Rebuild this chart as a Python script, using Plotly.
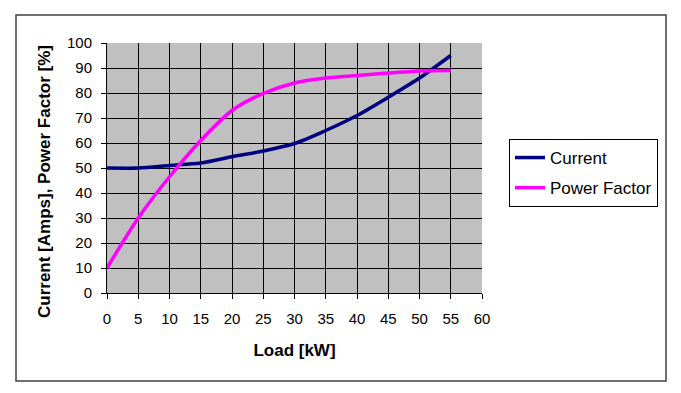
import plotly.graph_objects as go

load_kw = [0, 5, 10, 15, 20, 25, 30, 35, 40, 45, 50, 55]
current_amps = [50, 50, 51, 52, 54.5, 56.8, 59.8, 65, 71, 78.3, 86, 95]
power_factor = [10, 30, 46.5, 61, 73, 79.8, 84, 86, 87, 88, 88.8, 89]

x_ticks = list(range(0, 61, 5))
y_ticks = list(range(0, 101, 10))

W, H = 681, 393
# page body has an 8px margin; shift everything so screen positions match
OFF = 8
L, R, T, B = 107 - OFF, 482 - OFF, 43 - OFF, 293 - OFF


def px_x(p):
    return (p - OFF - L) / (R - L)


def px_y(p):
    return (B - (p - OFF)) / (B - T)


fig = go.Figure()
fig.add_trace(go.Scatter(
    x=load_kw, y=current_amps, name="Current", mode="lines",
    line=dict(color="#000080", width=3.5, shape="spline", smoothing=0.8),
    legendgroup="a",
))
fig.add_trace(go.Scatter(
    x=load_kw, y=power_factor, name="Power Factor", mode="lines",
    line=dict(color="#FF00FF", width=3.5, shape="spline", smoothing=0.8),
    legendgroup="b",
))

font_family = "Arial, Liberation Sans, sans-serif"

fig.update_layout(
    width=W, height=H,
    margin=dict(l=L, r=W - R, t=T, b=H - B, pad=0),
    paper_bgcolor="white",
    plot_bgcolor="#C0C0C0",
    font=dict(family=font_family, size=14, color="black"),
    showlegend=True,
    legend=dict(
        x=px_x(509), y=px_y(139), xanchor="left", yanchor="top",
        bordercolor="black", borderwidth=1, bgcolor="white",
        font=dict(family=font_family, size=17, color="black"),
        tracegroupgap=5, traceorder="grouped",
    ),
    xaxis=dict(
        range=[0, 60], tickvals=x_ticks, ticktext=[str(v) for v in x_ticks],
        showgrid=True, gridcolor="black", gridwidth=1,
        showline=True, linecolor="black", linewidth=1,
        ticks="outside", ticklen=5, tickcolor="black", tickwidth=1,
        ticklabelstandoff=7,
        zeroline=False,
        tickfont=dict(family=font_family, size=15),
        title=dict(text="<b>Load [kW]</b>", standoff=18,
                   font=dict(family=font_family, size=17)),
        fixedrange=True,
    ),
    yaxis=dict(
        range=[0, 100], tickvals=y_ticks, ticktext=[str(v) for v in y_ticks],
        showgrid=True, gridcolor="black", gridwidth=1,
        showline=True, linecolor="black", linewidth=1,
        ticks="outside", ticklen=5, tickcolor="black", tickwidth=1,
        ticklabelstandoff=6,
        zeroline=False,
        tickfont=dict(family=font_family, size=15),
        fixedrange=True,
    ),
    annotations=[dict(
        text="<b>Current [Amps], Power Factor [%]</b>",
        xref="paper", yref="paper", x=px_x(44), y=px_y(182),
        xanchor="center", yanchor="middle", textangle=-90, showarrow=False,
        font=dict(family=font_family, size=17, color="black"),
    )],
    shapes=[dict(
        type="rect", xref="paper", yref="paper",
        x0=px_x(16), x1=px_x(666), y0=px_y(381), y1=px_y(15),
        line=dict(color="#404040", width=1.5), layer="below",
    )],
)

fig.write_html("out.html", config={"displayModeBar": False})
